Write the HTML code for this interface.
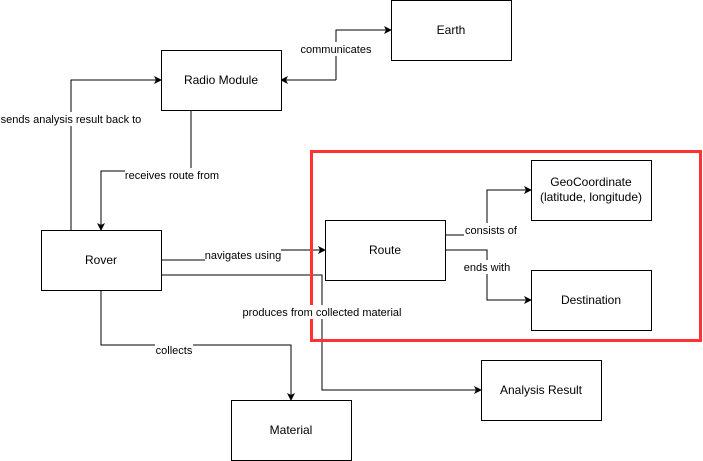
<!DOCTYPE html>
<html><head><meta charset="utf-8"><style>
body{margin:0;background:#fff;}
svg{display:block;font-family:"Liberation Sans",Arial,sans-serif;}
</style></head><body>
<svg width="703" height="461" viewBox="0 0 703 461" xmlns="http://www.w3.org/2000/svg">
<defs><marker id="a" markerWidth="8" markerHeight="8" refX="7" refY="4" orient="auto" markerUnits="userSpaceOnUse"><path d="M0,0 L8,4 L0,8 L2,4 z" fill="#000"/></marker></defs>
<g fill="none" stroke="#000" stroke-width="1">
<polyline points="71,230 71,80 161,80" marker-end="url(#a)"/>
<polyline points="191,110 191,171 101,171 101,230" marker-end="url(#a)"/>
<polyline points="336,80 336,30 391,30" marker-end="url(#a)"/>
<line x1="336" y1="80" x2="281" y2="80" marker-end="url(#a)"/>
<polyline points="161,260 243,260 243,250 325,250" marker-end="url(#a)"/>
<polyline points="161,275 322,275 322,390 481,390" marker-end="url(#a)"/>
<polyline points="101,290 101,345 291,345 291,400" marker-end="url(#a)"/>
<polyline points="445,235 487,235 487,190 531,190" marker-end="url(#a)"/>
<polyline points="445,250 487,250 487,300 531,300" marker-end="url(#a)"/>
<rect x="161.5" y="50.5" width="120" height="60" fill="#fff"/>
<rect x="391.5" y="0.5" width="120" height="60" fill="#fff"/>
<rect x="41.5" y="230.5" width="120" height="60" fill="#fff"/>
<rect x="325.5" y="220.5" width="120" height="60" fill="#fff"/>
<rect x="531.5" y="160.5" width="120" height="60" fill="#fff"/>
<rect x="531.5" y="270.5" width="120" height="60" fill="#fff"/>
<rect x="481.5" y="360.5" width="120" height="60" fill="#fff"/>
<rect x="231.5" y="400.5" width="120" height="60" fill="#fff"/>
</g>
<rect x="311.5" y="151.5" width="389" height="189" fill="none" stroke="#ff3333" stroke-width="3"/>
<g font-size="11" text-anchor="middle" fill="#000">
<rect x="2" y="112" width="140" height="14" fill="#fff"/><text x="71" y="123">sends analysis result back to</text>
<rect x="125" y="168" width="94" height="14" fill="#fff"/><text x="172" y="179">receives route from</text>
<rect x="299" y="42" width="74" height="14" fill="#fff"/><text x="336" y="53">communicates</text>
<rect x="205" y="248" width="76" height="14" fill="#fff"/><text x="243" y="259">navigates using</text>
<rect x="241" y="305" width="162" height="14" fill="#fff"/><text x="322" y="316">produces from collected material</text>
<rect x="155" y="343" width="38" height="14" fill="#fff"/><text x="174" y="354">collects</text>
<rect x="464" y="223" width="54" height="14" fill="#fff"/><text x="491" y="234">consists of</text>
<rect x="464" y="260" width="46" height="14" fill="#fff"/><text x="487" y="271">ends with</text>
</g>
<g font-size="12" text-anchor="middle" fill="#000">
<text x="221" y="84">Radio Module</text>
<text x="451" y="34">Earth</text>
<text x="101" y="264">Rover</text>
<text x="385" y="254">Route</text>
<text x="591" y="186">GeoCoordinate</text>
<text x="591" y="201">(latitude, longitude)</text>
<text x="591" y="304">Destination</text>
<text x="541" y="394">Analysis Result</text>
<text x="291" y="434">Material</text>
</g>
</svg>
</body></html>
